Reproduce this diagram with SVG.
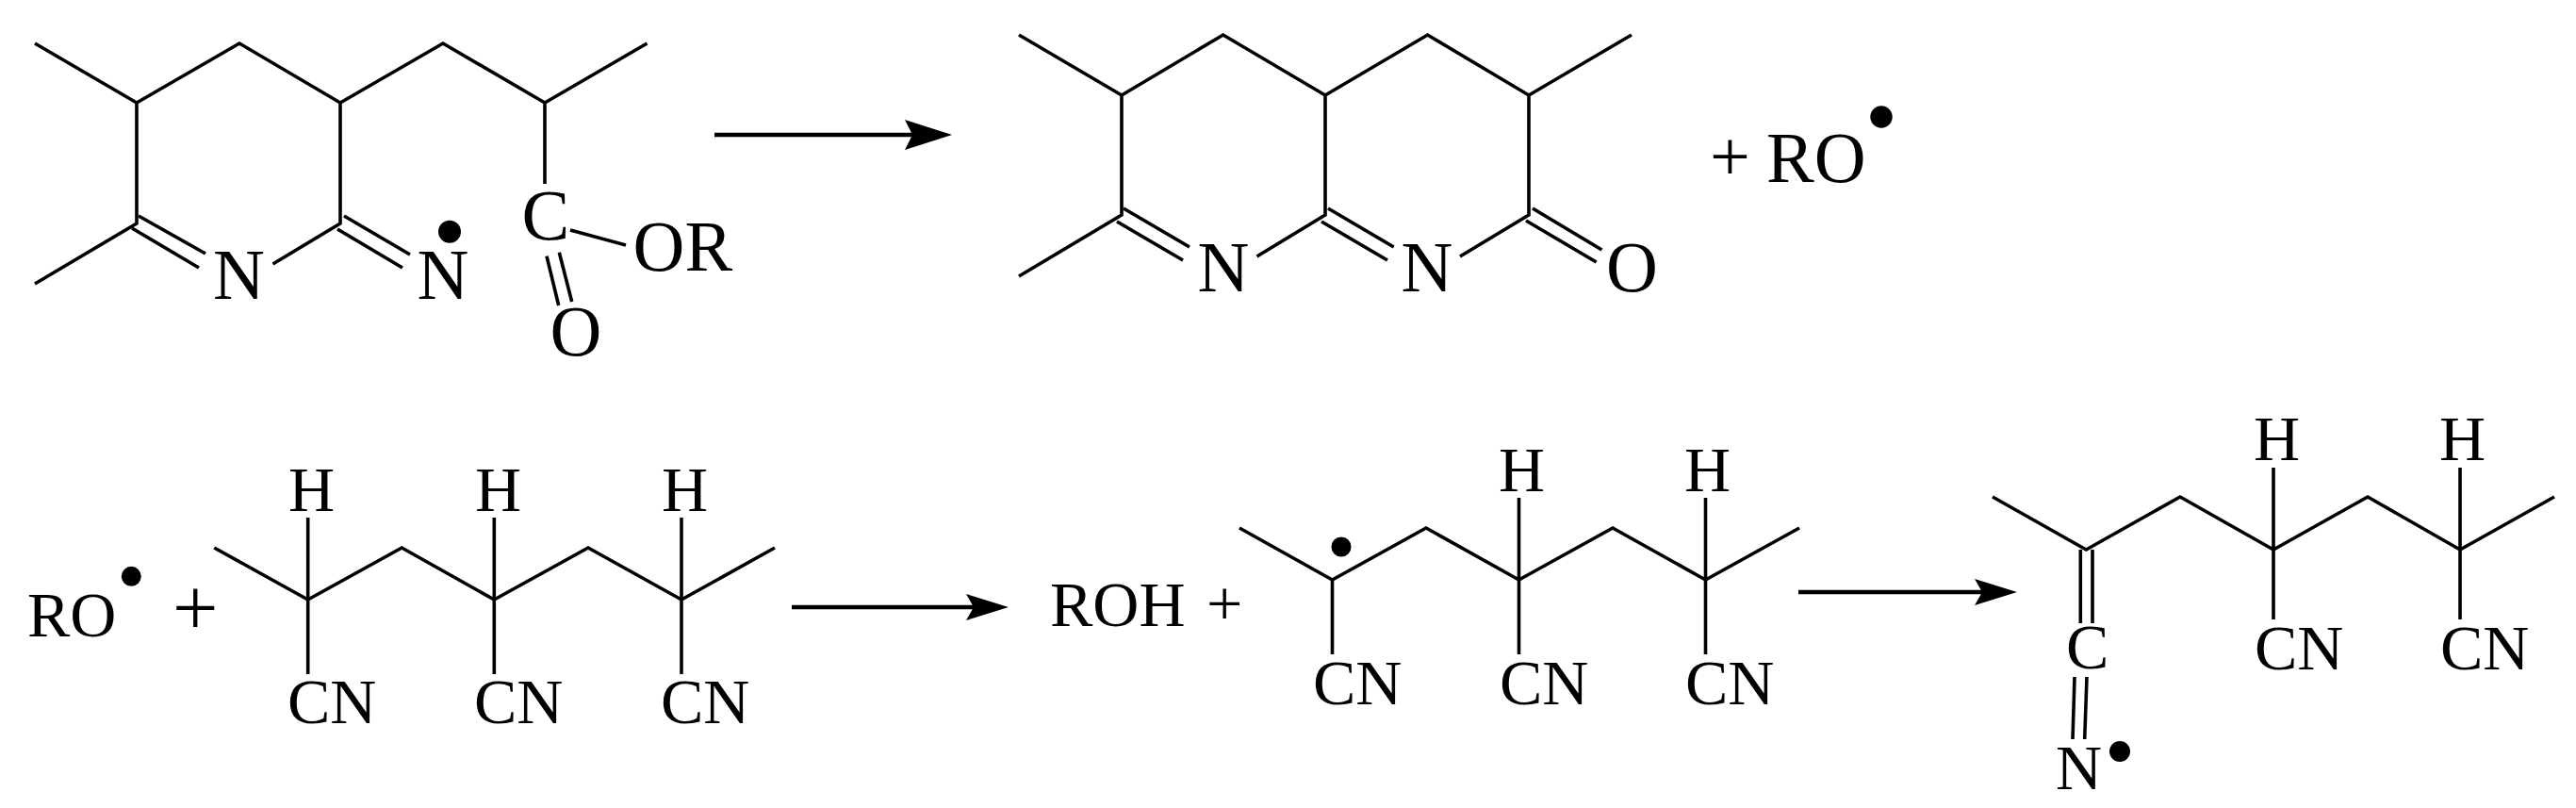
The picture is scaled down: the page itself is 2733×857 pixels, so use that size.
<svg xmlns="http://www.w3.org/2000/svg" width="2733" height="857" viewBox="0 0 2733 857">
<style>
.b{fill:none;stroke:#000;stroke-width:3.600;stroke-linejoin:miter}
.a{fill:none;stroke:#000;stroke-width:4.500}
text{font-family:"Liberation Serif","Times New Roman",serif;fill:#000}
.L{font-size:76px}
.S{font-size:68px}
.d{fill:#000}
</style>
<defs>
<marker id="hL" markerUnits="userSpaceOnUse" markerWidth="52" markerHeight="34" refX="8" refY="16" orient="auto"><path d="M0 0L50 16L0 32L8 16Z" fill="#000"/></marker>
<marker id="hS" markerUnits="userSpaceOnUse" markerWidth="48" markerHeight="30" refX="8" refY="14" orient="auto"><path d="M0 0L45 14L0 28L8 14Z" fill="#000"/></marker>
</defs>
<rect width="2733" height="857" fill="#fff"/>
<g id="connectors">
<line class="a" x1="758" y1="143" x2="968" y2="143" marker-end="url(#hL)"/>
<line class="a" x1="840" y1="644" x2="1033" y2="644" marker-end="url(#hS)"/>
<line class="a" x1="1908" y1="628" x2="2103" y2="628" marker-end="url(#hS)"/>
</g>
<g id="reactant-radical">
<path class="b" d="M37 46L145 109L254 46L361 109L470 46L578 109L686.500 46M145 109V237L37 301M361 109V237L289.500 280M578 109V195"/>
<path class="b" d="M147 229L218 269M140 242L211 284M365 229L435 270M358 243L427 284M580 271.700L592.700 324M593.300 267.700L606.700 320M605 244L664 260"/>
<text class="L" x="226" y="317">N</text>
<text class="L" x="442.500" y="317">N</text>
<circle class="d" cx="477" cy="245.700" r="12"/>
<text class="L" x="553.500" y="254">C</text>
<text class="L" x="671.500" y="287">OR</text>
<text class="L" x="583.400" y="377">O</text>
</g>
<g id="product-cyclic">
<path class="b" d="M1081 37L1190 101L1297.700 37L1406 101L1514.600 37L1622 101L1731 37M1190 101V228L1081 293M1406 101V228L1333.500 272M1622 101V228L1549 272"/>
<path class="b" d="M1192 221L1262 262M1185 235L1255 276M1409 221L1478.700 262M1402 235L1472 276M1626 221L1699.500 265M1619 234L1693.600 278"/>
<text class="L" x="1270.500" y="309">N</text>
<text class="L" x="1486.500" y="309">N</text>
<text class="L" x="1704" y="309">O</text>
</g>
<g id="product-ro">
<text class="L" x="1814" y="191">+</text>
<text class="L" x="1874" y="193">RO</text>
<circle class="d" cx="1996" cy="124" r="11.700"/>
</g>
<g id="ro-radical">
<text class="S" x="29" y="675">RO</text>
<circle class="d" cx="139.300" cy="611.300" r="10.500"/>
<text style="font-size:86px" x="183" y="674">+</text>
</g>
<g id="polymer">
<path class="b" d="M227.300 581L326.700 636L426.300 581L524.300 636L624 581L723 636L822 581M326.700 549V715M524.300 549V715M723 549V715"/>
<text class="S" x="306" y="542">H</text>
<text class="S" x="504" y="542">H</text>
<text class="S" x="702" y="542">H</text>
<text class="S" x="305" y="767">CN</text>
<text class="S" x="503" y="767">CN</text>
<text class="S" x="701" y="767">CN</text>
</g>
<g id="roh">
<text class="S" x="1114" y="664">ROH</text>
<text class="S" x="1280" y="663">+</text>
</g>
<g id="polymer-radical">
<path class="b" d="M1315 560L1413.500 615L1513 560L1611.500 615L1711 560L1809.500 615L1909 560M1413.500 615V694M1611.500 528V694M1809.500 528V694"/>
<circle class="d" cx="1423" cy="580" r="10.500"/>
<text class="S" x="1590" y="521">H</text>
<text class="S" x="1787" y="521">H</text>
<text class="S" x="1393" y="747">CN</text>
<text class="S" x="1591" y="747">CN</text>
<text class="S" x="1788" y="747">CN</text>
</g>
<g id="ketenimine-radical">
<path class="b" d="M2114 527L2213.300 583L2313 527L2412 583L2512 527L2610 583L2710 527M2412 496V657M2610 496V657"/>
<path class="b" d="M2207.300 583V661M2220 583V661M2201 718L2199 784M2214 718L2211.700 784"/>
<text class="S" x="2192" y="709">C</text>
<text class="S" x="2392" y="710">CN</text>
<text class="S" x="2589" y="710">CN</text>
<text class="S" x="2391" y="488">H</text>
<text class="S" x="2588" y="488">H</text>
<text class="S" x="2181" y="837">N</text>
<circle class="d" cx="2249" cy="797" r="11"/>
</g>
</svg>
